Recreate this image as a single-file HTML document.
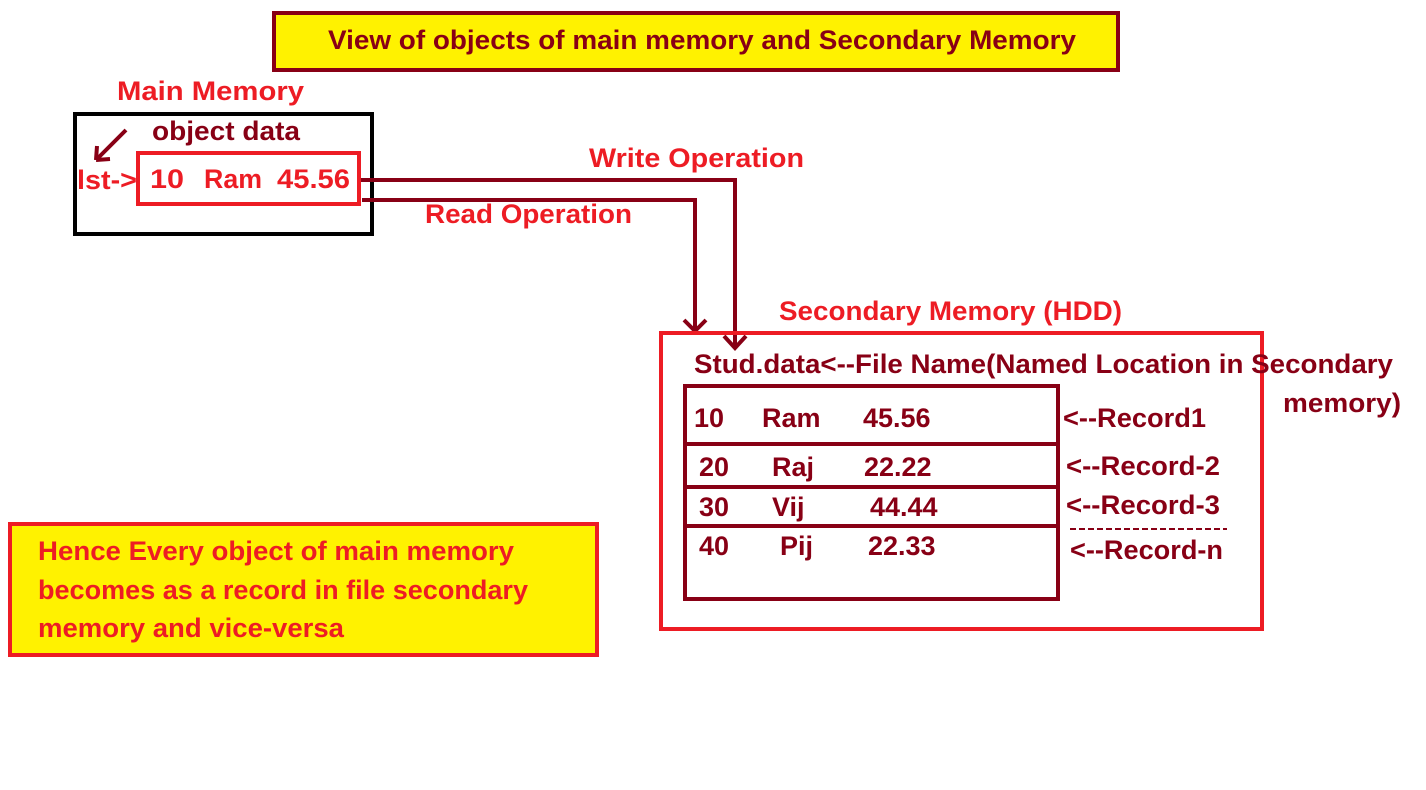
<!DOCTYPE html>
<html><head><meta charset="utf-8"><style>
html,body{margin:0;padding:0;background:#fff;width:1426px;height:790px;overflow:hidden}
text{font-family:"Liberation Sans",sans-serif;font-weight:bold}
</style></head><body>
<svg width="1426" height="790" xmlns="http://www.w3.org/2000/svg">
<g font-size="27">
<rect x="274" y="13" width="844" height="57" fill="#fff200" stroke="#880015" stroke-width="4"/>
<text x="328" y="49" fill="#880015" textLength="748" lengthAdjust="spacingAndGlyphs">View of objects of main memory and Secondary Memory</text>

<text x="117" y="100" fill="#ed1c24" textLength="187" lengthAdjust="spacingAndGlyphs">Main Memory</text>
<rect x="75" y="114" width="297" height="120" fill="none" stroke="#000" stroke-width="4"/>
<text x="152" y="140" fill="#880015" textLength="148" lengthAdjust="spacingAndGlyphs">object data</text>
<path d="M126 130 L96 160 M96 160 L97 146 M96 160 L110 159" stroke="#880015" stroke-width="4" fill="none"/>
<text x="77" y="189" fill="#ed1c24" textLength="60" lengthAdjust="spacingAndGlyphs">lst-&gt;</text>
<rect x="138" y="153" width="221" height="51" fill="none" stroke="#ed1c24" stroke-width="4"/>
<g fill="#ed1c24">
<text x="150" y="188" textLength="34" lengthAdjust="spacingAndGlyphs">10</text>
<text x="204" y="188" textLength="58" lengthAdjust="spacingAndGlyphs">Ram</text>
<text x="277" y="188" textLength="73" lengthAdjust="spacingAndGlyphs">45.56</text>
</g>

<path d="M361 180 H735 V348" stroke="#880015" stroke-width="4" fill="none"/>
<path d="M724 336 L735 348 L746 336" stroke="#880015" stroke-width="4" fill="none"/>
<path d="M362 200 H695 V330" stroke="#880015" stroke-width="4" fill="none"/>
<path d="M684 320 L695 331 L706 320" stroke="#880015" stroke-width="4" fill="none"/>
<text x="589" y="167" fill="#ed1c24" textLength="215" lengthAdjust="spacingAndGlyphs">Write Operation</text>
<text x="425" y="223" fill="#ed1c24" textLength="207" lengthAdjust="spacingAndGlyphs">Read Operation</text>

<text x="779" y="320" fill="#ed1c24" textLength="343" lengthAdjust="spacingAndGlyphs">Secondary Memory (HDD)</text>
<rect x="661" y="333" width="601" height="296" fill="none" stroke="#ed1c24" stroke-width="4"/>
<text x="694" y="373" fill="#880015" textLength="699" lengthAdjust="spacingAndGlyphs">Stud.data&lt;--File Name(Named Location in Secondary</text>
<text x="1283" y="412" fill="#880015" textLength="118" lengthAdjust="spacingAndGlyphs">memory)</text>

<rect x="685" y="386" width="373" height="213" fill="none" stroke="#880015" stroke-width="4"/>
<path d="M685 444 H1058 M685 487 H1058 M685 526 H1058" stroke="#880015" stroke-width="4"/>
<g fill="#880015">
<text x="694" y="427">10</text><text x="762" y="427">Ram</text><text x="863" y="427">45.56</text>
<text x="699" y="476">20</text><text x="772" y="476">Raj</text><text x="864" y="476">22.22</text>
<text x="699" y="516">30</text><text x="772" y="516">Vij</text><text x="870" y="516">44.44</text>
<text x="699" y="555">40</text><text x="780" y="555">Pij</text><text x="868" y="555">22.33</text>
<text x="1063" y="427" textLength="143" lengthAdjust="spacingAndGlyphs">&lt;--Record1</text>
<text x="1066" y="475" textLength="154" lengthAdjust="spacingAndGlyphs">&lt;--Record-2</text>
<text x="1066" y="514" textLength="154" lengthAdjust="spacingAndGlyphs">&lt;--Record-3</text>
<text x="1070" y="559" textLength="153" lengthAdjust="spacingAndGlyphs">&lt;--Record-n</text>
</g>
<path d="M1070 529 H1227" stroke="#880015" stroke-width="2" stroke-dasharray="6 3"/>

<rect x="10" y="524" width="587" height="131" fill="#fff200" stroke="#ed1c24" stroke-width="4"/>
<g fill="#ed1c24">
<text x="38" y="560" textLength="476" lengthAdjust="spacingAndGlyphs">Hence Every object of main memory</text>
<text x="38" y="599" textLength="490" lengthAdjust="spacingAndGlyphs">becomes as a record in file secondary</text>
<text x="38" y="637" textLength="306" lengthAdjust="spacingAndGlyphs">memory and vice-versa</text>
</g>
</g>
</svg>
</body></html>
